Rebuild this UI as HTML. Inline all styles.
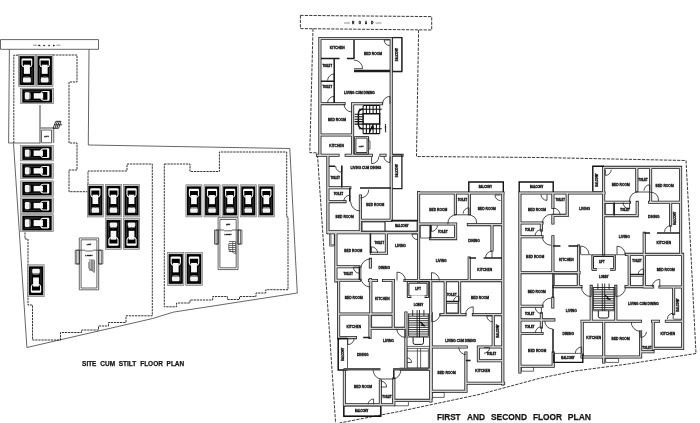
<!DOCTYPE html>
<html><head><meta charset="utf-8"><title>Floor Plan</title>
<style>html,body{margin:0;padding:0;background:#fff}body{width:700px;height:423px;overflow:hidden;font-family:"Liberation Sans",sans-serif}svg{display:block}</style>
</head><body>
<svg width="700" height="423" viewBox="0 0 700 423">
<rect width="700" height="423" fill="#fff"/>
<defs>
<symbol id="car" viewBox="0 0 16.7 33.6" preserveAspectRatio="none" overflow="visible">
<rect x="0.3" y="0.3" width="16.1" height="33" fill="#c6c6c6" stroke="#707070" stroke-width="0.6"/>
<rect x="1.4" y="2" width="13.9" height="29.6" fill="#000"/>
<path d="M4.4 5.5H12.3" stroke="#fff" stroke-width="2.2" stroke-linecap="round" fill="none"/>
<path d="M3.8 5.6V10.8Q3.9 12.8 6.2 13.2M12.9 5.6V10.8Q12.8 12.8 10.5 13.2" stroke="#f4f4f4" stroke-width="1.15" fill="none"/>
<rect x="5.5" y="10.8" width="5.7" height="9.4" fill="#f8f8f8"/>
<path d="M3.5 13.5V29.6M13.2 13.5V29.6" stroke="#777" stroke-width="0.5"/>
<path d="M4.9 24Q8.4 22.8 11.9 24" stroke="#ccc" stroke-width="0.7" fill="none"/>
<rect x="4.6" y="24.3" width="7.5" height="4.8" rx="1.2" fill="#f2f2f2"/>
</symbol>
</defs>

<path d="M0.5 39.6L98.5 39.6L98.5 49.3L0.5 49.3L0.5 39.6M9.4 49.3L8.6 143L40 143M13.5 143.5L26.9 347.5L152.3 318.6L173.5 312.1L297.3 293L289.8 148.5L88.3 145L89 49.3M41.5 130L51.5 130L51.5 142.8L41.5 142.8L41.5 130M79.3 238L98.7 238L98.7 289.8L79.3 289.8L79.3 238M81.1 239.8L96.9 239.8L96.9 288L81.1 288L81.1 239.8M75.3 250.2L79.3 250.2L79.3 264L75.3 264L75.3 250.2M76.8 250.2L79.3 250.2L79.3 264L76.8 264L76.8 250.2M98.7 250.2L102.8 250.2L102.8 264L98.7 264L98.7 250.2M98.7 250.2L101.3 250.2L101.3 264L98.7 264L98.7 250.2M79.3 250.2L85.3 250.2M92.7 250.2L98.7 250.2M85.3 251L92.7 251M218.1 217.7L238 217.7L238 269.6L218.1 269.6L218.1 217.7M219.9 219.5L236.2 219.5L236.2 267.8L219.9 267.8L219.9 219.5M214.5 230L218.1 230L218.1 244.1L214.5 244.1L214.5 230M216 230L218.1 230L218.1 244.1L216 244.1L216 230M238 230L241.9 230L241.9 244.1L238 244.1L238 230M238 230L240.4 230L240.4 244.1L238 244.1L238 230M218.1 230L224.1 230M232 230L238 230M224.1 230.8L232 230.8M392.6 37.4L401.9 37.4L401.9 71.6L392.6 71.6L392.6 37.4M368.6 136.5L368.6 141L370 141L370 149L368.6 149M362.2 222L385 222L385 231L362.2 231L362.2 222M385 221.2L417 221.2L417 231L385 231L385 221.2M329.6 233.5L334.4 233.5L334.4 246L329.6 246L329.6 233.5M330.9 233.5L334.4 233.5L334.4 244.8L330.9 244.8L330.9 233.5M360.9 268.5L360.9 277.5M371.6 315.6L392.4 315.6L392.4 327.6L371.6 327.6L371.6 315.6M347.5 338.4L347.5 369M406.6 346.4L430 346.4M407.2 337.2L429.4 337.2M407 348.4L428.4 348.4L428.4 368L407 368L407 348.4M417.4 348.4L417.4 368M420.6 348.4L420.6 368M407 351L428.4 351M394 400.4L408.4 400.4L408.4 405.8L394 405.8L394 400.4M343.8 406.2L380.8 406.2L380.8 416.2L343.8 416.2L343.8 406.2M420.4 225.6L429.8 225.6L429.8 238L420.4 238L420.4 225.6M446.4 303.4L458 303.4L458 312.8L446.4 312.8L446.4 303.4M431.8 392.4L444.2 392.4L444.2 397.4L431.8 397.4L431.8 392.4M554.4 274.2L577.2 274.2L577.2 285.6L554.4 285.6L554.4 274.2M521.4 366.6L533.6 366.6L533.6 371.2L521.4 371.2L521.4 366.6M553.8 353.4L582.8 353.4M592.8 191.6L603 191.6M605.6 203.4L613.4 203.4L613.4 214.6L605.6 214.6L605.6 203.4M630.4 276.4L643 276.4L643 285.6L630.4 285.6L630.4 276.4M673.6 319.2L682 319.2M605.6 358.4L618.6 358.4L618.6 362.4L605.6 362.4L605.6 358.4M580.6 254.7L591.8 254.7M615.4 254.7L626.4 254.7M592 310.8L615 310.8" fill="none" stroke="#333" stroke-width="0.75"/>
<path d="M18 55.2L13.8 55.2L13.8 143M53 55L77 55L77 82L69 82L69 143L77 143L77 170L69 170L69 191.7L88 191.7M88 184L88 171L127 171L127 164L152.3 164L152.3 315.8L126 315.8L126 322.5L108.5 322.5L108.5 326L98.5 326L98.5 330L81.5 330L81.5 332.5L60.5 332.5L60.5 340L32.5 340L32.5 305L28 305L28 239L25 239L25 232M164.3 164L190 164L190 171.5L219.4 171.5L219.4 152L286.7 152L286.7 217L288 217L288 289.7L265.8 289.7L265.8 293L256 293L256 296.5L239.5 296.5L239.5 299.5L227.4 299.5L227.4 296.5L212.7 296.5L212.7 300L190 300L190 303L176.6 303L176.6 306.8L164.3 306.8L164.3 164" fill="none" stroke="#111" stroke-width="0.85" stroke-dasharray="2.3 0.8"/>
<path d="M300.4 15.4L431.7 16.6L431.7 30L300.4 28.6L300.4 15.4M313 28.6L309.8 152.6L318 153M317.5 155L335.6 423M418.6 30L416.5 156.5L540 157.5L686 160.5L689.5 225L693 295L696 353.5M696 353.5L626 364.3L575 371L540 378.2L480 394.3L400 411.3L339.5 423" fill="none" stroke="#222" stroke-width="0.9" stroke-dasharray="3.2 1.2"/>
<path d="M319.9 38.5L319.9 155M319.9 38.5L391.2 38.5M391.2 38.5L391.2 155M321 103.6L344 103.6M352.6 104L352.6 155M352.6 103.8L381.5 103.8M321 135L352.6 135M317.5 155.3L338 155.3M346.2 155.3L371.4 155.3M381 155.3L385 155.3M391.4 155.3L402 155.3M327.9 156L327.9 232.5M391.2 156L391.2 220M329 187.8L349.8 187.8M329 201.6L345 201.6M360.4 196L360.4 232M360.4 220.2L391 220.2M329 231.8L360 231.8M328.5 232.8L418 232.8M335.9 234L335.9 281M418.6 192.5L418.6 281M370.4 259.4L370.4 267M370.4 279.5L370.4 288M386.4 233.5L386.4 253M371.4 253.2L386.4 253.2M337 266.8L359 266.8M337 280.3L359.4 280.3M369.5 280.5L376.5 280.5M383.5 280.5L393.4 280.5M405 280.5L418.5 280.5M338.6 281L338.6 338M370.8 281L370.8 313.5M393.2 281L393.2 328M338.6 314L393.2 314M370 315L370 337.5M339 337.6L355.4 337.6M371 328.4L405.4 328.4M405.9 313L405.9 369M430.7 281L430.7 401M344.4 370.5L344.4 405M344.4 404.8L393.6 404.8M380.4 381L380.4 404.5M393.8 379L393.8 404.5M393.6 400.4L431 400.4M418.6 193L503 193M502.8 193L502.8 384M455.4 194L455.4 213.5M469.4 194L469.4 213.5M420 224L455.6 224M468.4 224.6L502 224.6M430.6 238.6L455.4 238.6M455.6 224L455.6 238.6M492 225.5L492 250M469.2 258L469.2 280M419.5 280.6L502.5 280.6M445.2 282L445.2 314M459.6 282L459.6 314M441 314.6L465 314.6M473.4 314.6L502.5 314.6M493.2 315.2L493.2 346.5M431.2 313.5L431.2 398M431.2 347L466.2 347M478.4 347L502.5 347M465.9 353L465.9 391M431.5 391.2L466 391.2M478.4 347L478.4 360.6M478.4 360.8L502.5 360.8M466 383.2L503.6 383.2M401 369.3L430 369.3M519.9 193L604 193M519.9 193L519.9 372M552.9 194L552.9 207.5M552.9 215.4L552.9 223M553 215.4L567.2 215.4M567.2 194L567.2 215.4M521 223L542 223M541.4 223.5L541.4 230M521 236.8L542 236.8M552.9 236.8L552.9 272M578.5 246L578.5 286M519.9 272.6L579 272.6M552.8 298.3L552.8 307M521 306.2L542 306.2M541.4 313.7L541.4 327M521 319.9L553.8 319.9M521 333.5L542 333.5M553.2 353L553.2 366M519.9 366.2L553.2 366.2M582.2 321.2L582.2 357M603.7 321.2L603.7 362M603.6 167.4L680.6 167.4M603.6 167.4L603.6 253.5M680.6 167.4L680.6 254.4M636.8 168.5L636.8 190.4M650.6 168.5L650.6 202M605 202.2L629.4 202.2M649.6 202.2L680 202.2M605 215.6L637.2 215.6M637.2 202.4L637.2 215.6M670.6 203L670.6 225M644.2 233.2L644.2 253.5M626.4 254.4L681.6 254.4M629.2 255.4L629.2 286.4M644.4 255.4L644.4 286.4M644.4 287L652.6 287M660 287L682.4 287M673.6 288L673.6 313.4M582 321.2L640.4 321.2M652.6 321.2L658.4 321.2M666.4 321.2L682.6 321.2M653.2 322.4L653.2 349M653.2 348.4L682.6 348.4M682.6 254.4L682.6 348.4M640.6 332L640.6 357M640.6 351.8L653 351.8M582 357L640.6 357M591.2 286.4L591.2 321M615.8 286.4L615.8 321M554 286.6L581 286.6M626 286.6L652.6 286.6M603.6 253.5L603.6 254" fill="none" stroke="#222" stroke-width="3.1" stroke-linecap="square"/>
<path d="M319.9 38.5L319.9 155M319.9 38.5L391.2 38.5M391.2 38.5L391.2 155M321 103.6L344 103.6M352.6 104L352.6 155M352.6 103.8L381.5 103.8M321 135L352.6 135M317.5 155.3L338 155.3M346.2 155.3L371.4 155.3M381 155.3L385 155.3M391.4 155.3L402 155.3M327.9 156L327.9 232.5M391.2 156L391.2 220M329 187.8L349.8 187.8M329 201.6L345 201.6M360.4 196L360.4 232M360.4 220.2L391 220.2M329 231.8L360 231.8M328.5 232.8L418 232.8M335.9 234L335.9 281M418.6 192.5L418.6 281M370.4 259.4L370.4 267M370.4 279.5L370.4 288M386.4 233.5L386.4 253M371.4 253.2L386.4 253.2M337 266.8L359 266.8M337 280.3L359.4 280.3M369.5 280.5L376.5 280.5M383.5 280.5L393.4 280.5M405 280.5L418.5 280.5M338.6 281L338.6 338M370.8 281L370.8 313.5M393.2 281L393.2 328M338.6 314L393.2 314M370 315L370 337.5M339 337.6L355.4 337.6M371 328.4L405.4 328.4M405.9 313L405.9 369M430.7 281L430.7 401M344.4 370.5L344.4 405M344.4 404.8L393.6 404.8M380.4 381L380.4 404.5M393.8 379L393.8 404.5M393.6 400.4L431 400.4M418.6 193L503 193M502.8 193L502.8 384M455.4 194L455.4 213.5M469.4 194L469.4 213.5M420 224L455.6 224M468.4 224.6L502 224.6M430.6 238.6L455.4 238.6M455.6 224L455.6 238.6M492 225.5L492 250M469.2 258L469.2 280M419.5 280.6L502.5 280.6M445.2 282L445.2 314M459.6 282L459.6 314M441 314.6L465 314.6M473.4 314.6L502.5 314.6M493.2 315.2L493.2 346.5M431.2 313.5L431.2 398M431.2 347L466.2 347M478.4 347L502.5 347M465.9 353L465.9 391M431.5 391.2L466 391.2M478.4 347L478.4 360.6M478.4 360.8L502.5 360.8M466 383.2L503.6 383.2M401 369.3L430 369.3M519.9 193L604 193M519.9 193L519.9 372M552.9 194L552.9 207.5M552.9 215.4L552.9 223M553 215.4L567.2 215.4M567.2 194L567.2 215.4M521 223L542 223M541.4 223.5L541.4 230M521 236.8L542 236.8M552.9 236.8L552.9 272M578.5 246L578.5 286M519.9 272.6L579 272.6M552.8 298.3L552.8 307M521 306.2L542 306.2M541.4 313.7L541.4 327M521 319.9L553.8 319.9M521 333.5L542 333.5M553.2 353L553.2 366M519.9 366.2L553.2 366.2M582.2 321.2L582.2 357M603.7 321.2L603.7 362M603.6 167.4L680.6 167.4M603.6 167.4L603.6 253.5M680.6 167.4L680.6 254.4M636.8 168.5L636.8 190.4M650.6 168.5L650.6 202M605 202.2L629.4 202.2M649.6 202.2L680 202.2M605 215.6L637.2 215.6M637.2 202.4L637.2 215.6M670.6 203L670.6 225M644.2 233.2L644.2 253.5M626.4 254.4L681.6 254.4M629.2 255.4L629.2 286.4M644.4 255.4L644.4 286.4M644.4 287L652.6 287M660 287L682.4 287M673.6 288L673.6 313.4M582 321.2L640.4 321.2M652.6 321.2L658.4 321.2M666.4 321.2L682.6 321.2M653.2 322.4L653.2 349M653.2 348.4L682.6 348.4M682.6 254.4L682.6 348.4M640.6 332L640.6 357M640.6 351.8L653 351.8M582 357L640.6 357M591.2 286.4L591.2 321M615.8 286.4L615.8 321M554 286.6L581 286.6M626 286.6L652.6 286.6M603.6 253.5L603.6 254" fill="none" stroke="#d4d4d4" stroke-width="1.5" stroke-linecap="square"/>
<path d="M354 40L354 59M321 58.4L339.5 58.4M346.9 58.4L354 58.4M354 70.6L390 70.6M354 71.6L390 71.6M334.2 58.4L334.2 103M321 81.2L334.2 81.2M341.8 165.5L341.8 187.5M329 166.3L335 166.3M349.8 187.8L349.8 201.5M360 188L391 188M391 220.6L418 220.6M370.4 233.5L370.4 253M359.4 266.6L359.4 280M363.2 337.6L370 337.6M393.8 370L393.8 379M430.6 225L430.6 238.5M469.2 257.9L476 257.9M483.6 257.9L502 257.9M446 301.6L459 301.6M465.9 360.6L470.6 360.6M553 246L560.4 246M568.4 246L578.4 246M553 273.5L553 298M553 329L553 353M614.2 202.5L614.2 215.4M644.2 233.1L650 233.1M657 233.1L680 233.1M630 274.6L644 274.6" fill="none" stroke="#1c1c1c" stroke-width="1.5"/>
<path d="M354 60.1A8.6 8.6 0 0 1 362.6 68.7L354 68.7M327.6 80.6A6.6 6.6 0 0 1 334.2 74L334.2 80.6M327.6 103A6.6 6.6 0 0 1 334.2 96.4L334.2 103M389.8 45.6A5.6 5.6 0 0 1 384.2 40L389.8 40M344 104A8 8 0 0 0 352 112M382.6 103.8A7.4 7.4 0 0 1 390 96.4L390 103.8M335.6 166A6.2 6.2 0 0 0 341.8 172.2L341.8 166M343.8 201.2A6 6 0 0 1 349.8 195.2L349.8 201.2M378.8 156.5A7.2 7.2 0 0 1 371.6 163.7L371.6 156.5M384 156.5A6 6 0 0 0 390 162.5L390 156.5M368.8 189.6A8.4 8.4 0 0 1 360.4 198M350.6 201.4A9.6 9.6 0 0 0 360.2 211M377.6 253A6.2 6.2 0 0 0 371.4 246.8L371.4 253M370.4 259A9.5 9.5 0 0 0 360.9 268.5M359.4 273.2A6 6 0 0 1 353.4 267.2L359.4 267.2M360.9 277.5A9.5 9.5 0 0 0 370.4 287M405.4 280.5A8.4 8.4 0 0 0 397 272.1L397 280.5M417.6 239.6A5.6 5.6 0 0 1 412 234L417.6 234M354.2 338.2A6.4 6.4 0 0 1 347.8 344.6L347.8 338.2M396.8 328.8A8.6 8.6 0 0 0 405.4 337.4L405.4 328.8M407 357.9A4.6 4.6 0 0 1 411.6 362.5L407 362.5M373 370Q374 378 381 379H393Q400 378 401 370M380.8 381.2A5.8 5.8 0 0 1 386.6 387L380.8 387M368.2 404.4A5.4 5.4 0 0 1 373.6 399L373.6 404.4M500.6 200.6A5.6 5.6 0 0 1 495 195L500.6 195M463.2 213.6A5.8 5.8 0 0 1 469 207.8L469 213.6M447.8 224.4Q447.8 214.8 457.4 214.8H467Q476.6 214.8 476.6 223M437.4 225.4A6 6 0 0 1 431.4 231.4L431.4 225.4M485.6 257.6A6.4 6.4 0 0 1 492 251.2L492 257.6M439.3 280.4A7.8 7.8 0 0 0 431.5 272.6L431.5 280.4M453.6 301.4A5.4 5.4 0 0 1 459 296L459 301.4M465.6 314.4A7.6 7.6 0 0 1 473.2 306.8L473.2 314.4M492.8 321.8A6 6 0 0 1 486.8 315.8L492.8 315.8M440.2 313.4A8.4 8.4 0 0 1 431.8 321.8L431.8 313.4M458.8 347.4A7.2 7.2 0 0 0 466 354.6M484 353.2A5.6 5.6 0 0 0 489.6 347.6L484 347.6M560 214.6A6.4 6.4 0 0 0 553.6 208.2L553.6 214.6M542.4 223A8.6 8.6 0 0 1 551 214.4M535 236A6.4 6.4 0 0 1 541.4 229.6L541.4 236M542.4 236.6A8.6 8.6 0 0 0 551 245.2M542.4 306.6A8.4 8.4 0 0 1 550.8 298.2M535.4 307.6A6 6 0 0 0 541.4 313.6L541.4 307.6M535.4 332.8A6 6 0 0 1 541.4 326.8L541.4 332.8M544.8 321A8 8 0 0 0 552.8 329M541 194.4A6 6 0 0 0 547 200.4L547 194.4M589 254.4A8.4 8.4 0 0 0 580.6 246L580.6 254.4M575.4 353.2A6.2 6.2 0 0 1 581.6 347L581.6 353.2M581.4 286.8A9.8 9.8 0 0 0 591.2 296.6L591.2 286.8M611.2 169.6A5.8 5.8 0 0 1 605.4 175.4L605.4 169.6M644 190.6A5.8 5.8 0 0 1 649.8 184.8L649.8 190.6M629.4 202Q629.4 192 639 192H649Q658.6 192 658.6 201M623 202.4A6.6 6.6 0 0 0 629.6 209L629.6 202.4M664.6 231.8A6 6 0 0 1 670.6 225.8L670.6 231.8M625.2 254.4A8.2 8.2 0 0 0 617 246.2L617 254.4M638.2 274.4A5.4 5.4 0 0 1 643.6 269L643.6 274.4M652.2 287A7.6 7.6 0 0 1 659.8 279.4L659.8 287M667.4 319A5.8 5.8 0 0 1 673.2 313.2L673.2 319M640.6 331.4A9.4 9.4 0 0 1 631.2 322M646.4 331.8A5.6 5.6 0 0 1 640.8 337.4L640.8 331.8M625.6 286.8A9.8 9.8 0 0 1 615.8 296.6L615.8 286.8" fill="none" stroke="#222" stroke-width="0.8"/>
<path d="M33 45.2H37.2M56.4 45.2H60.4" stroke="#444" stroke-width="0.6"/>
<use href="#car" width="16.7" height="33.6" transform="matrix(1.0539 0.0000 0.0000 0.9732 18.1000 54.2000)"/>
<use href="#car" width="16.7" height="33.6" transform="matrix(1.0299 0.0000 0.0000 0.9732 36.1000 54.2000)"/>
<use href="#car" width="16.7" height="33.6" transform="matrix(0.0000 0.9581 -1.0030 0.0000 54.0000 87.9000)"/>
<use href="#car" width="16.7" height="33.6" transform="matrix(0.0000 0.9581 -0.9881 0.0000 53.6000 145.2000)"/>
<use href="#car" width="16.7" height="33.6" transform="matrix(0.0000 0.9581 -0.9881 0.0000 53.6000 162.9000)"/>
<use href="#car" width="16.7" height="33.6" transform="matrix(0.0000 0.9581 -0.9881 0.0000 53.6000 180.6000)"/>
<use href="#car" width="16.7" height="33.6" transform="matrix(0.0000 0.9581 -0.9881 0.0000 53.6000 197.6000)"/>
<use href="#car" width="16.7" height="33.6" transform="matrix(0.0000 1.0419 -0.9881 0.0000 53.6000 214.4000)"/>
<use href="#car" width="16.7" height="33.6" transform="matrix(1.0000 0.0000 0.0000 0.9911 87.0000 184.0000)"/>
<use href="#car" width="16.7" height="33.6" transform="matrix(1.0000 0.0000 0.0000 0.9911 105.1000 184.0000)"/>
<use href="#car" width="16.7" height="33.6" transform="matrix(1.0000 0.0000 0.0000 0.9911 123.2000 184.0000)"/>
<use href="#car" width="16.7" height="33.6" transform="matrix(-1.0000 0.0000 0.0000 -0.9405 121.8000 249.8000)"/>
<use href="#car" width="16.7" height="33.6" transform="matrix(-1.0000 0.0000 0.0000 -0.9405 139.9000 249.8000)"/>
<use href="#car" width="16.7" height="33.6" transform="matrix(1.0000 0.0000 0.0000 0.9732 185.6000 184.5000)"/>
<use href="#car" width="16.7" height="33.6" transform="matrix(1.0000 0.0000 0.0000 0.9732 203.7000 184.5000)"/>
<use href="#car" width="16.7" height="33.6" transform="matrix(1.0000 0.0000 0.0000 0.9732 221.8000 184.5000)"/>
<use href="#car" width="16.7" height="33.6" transform="matrix(1.0000 0.0000 0.0000 0.9732 239.9000 184.5000)"/>
<use href="#car" width="16.7" height="33.6" transform="matrix(1.0000 0.0000 0.0000 0.9732 258.0000 184.5000)"/>
<use href="#car" width="16.7" height="33.6" transform="matrix(1.0120 0.0000 0.0000 1.0030 167.3000 252.1000)"/>
<use href="#car" width="16.7" height="33.6" transform="matrix(1.0299 0.0000 0.0000 1.0030 185.4000 252.1000)"/>
<use href="#car" width="16.7" height="33.6" transform="matrix(-1.0180 0.0000 0.0000 -0.9673 44.5000 297.0000)"/>
<path d="M40 105V143.5M40 128H53.5V143" fill="none" stroke="#888" stroke-width="1.6"/>
<path d="M53 128.3L55.8 121.3H61L58.6 128.3ZM54.4 124.8H62.2M57.5 121.3L55 128.3M59.3 121.3L56.8 128.3" fill="none" stroke="#222" stroke-width="0.9"/>
<path d="M88.9 260H94.3M88.9 262H94.3M88.9 264H94.3M88.9 266H94.3M88.9 268H94.3M88.9 270H94.3M88.9 262V268.4L94.3 272.4V260M92 260V270.5" fill="none" stroke="#444" stroke-width="0.75"/>
<path d="M228.8 241.5H235.7M228.8 243.5H235.7M228.8 245.5H235.7M228.8 247.5H235.7M228.8 249.5H235.7M228.8 251.5H235.7M228.8 243.5V249.9L235.7 253.9V241.5M232.7 241.5V252" fill="none" stroke="#444" stroke-width="0.75"/>
<path d="M344 23H350M375.6 23H381.6" stroke="#444" stroke-width="0.6"/>
<path d="M392.6 37.6H401.9V71.5H392.6" fill="none" stroke="#222" stroke-width="1.3"/>
<path d="M354.4 136.6H368.6V154H354.4ZM355.9 138.1H367.1V152.5H355.9Z" fill="none" stroke="#222" stroke-width="0.9"/>
<path d="M363.1 105.5L363.1 113.7M363.1 124.1L363.1 133.6M366.4 105.5L366.4 113.7M366.4 124.1L366.4 133.6M369.7 105.5L369.7 113.7M369.7 124.1L369.7 133.6M373.1 105.5L373.1 113.7M373.1 124.1L373.1 133.6M376.4 105.5L376.4 113.7M376.4 124.1L376.4 133.6M379.7 105.5L379.7 113.7M379.7 124.1L379.7 133.6M363.1 105.5L379.7 105.5M358.9 109.2L381.8 109.2M363.1 133.6L379.7 133.6M358.9 128.8L381.8 128.8M354.6 114.3L363.1 114.3M354.6 116.8L363.1 116.8M354.6 119.2L363.1 119.2M354.6 121.6L363.1 121.6M354.6 124.1L363.1 124.1" fill="none" stroke="#111" stroke-width="1.05"/>
<path d="M363.1 113.7H379.7V124.1H363.1ZM363.1 109.2Q358.4 109.2 358.4 113.7V124.1Q358.4 128.8 363.1 128.8" fill="none" stroke="#111" stroke-width="1.5"/>
<path d="M372.4 125.2l-3 7.4l1 -4l3.4 0.4z" fill="#111" stroke="#111" stroke-width="1"/>
<path d="M392.4 154.8H401.9V188.6H392.4" fill="none" stroke="#222" stroke-width="1.3"/>
<path d="M347.5 338.4H338.2V370H347.5" fill="none" stroke="#111" stroke-width="1.5"/>
<path d="M343.5 369.3H380.5M393 369.3H428.5" fill="none" stroke="#555" stroke-width="2.6"/>
<path d="M407.3 281.6H428.7V297.5H407.3ZM408.9 283.2H427.1V295.9H408.9Z" fill="none" stroke="#222" stroke-width="1"/>
<rect x="411.5" y="295.4" width="13" height="3" fill="#fff"/>
<path d="M408.6 314H428.4M408.6 316.2H428.4M408.6 318.4H428.4M408.6 320.7H428.4M408.6 322.9H428.4M408.6 325.1H428.4M408.6 327.4H428.4M408.6 329.6H428.4M408.6 331.8H428.4M408.6 334H428.4M408.6 336.2H428.4M417.1 310V337.4M419.5 310V337.4M412.7 310V316M423.9 310V316M408.6 313.5V336.2M428.4 313.5V336.2" stroke="#151515" stroke-width="0.85" fill="none"/>
<path d="M413.1 337.2V342.6Q413.1 344.4 414.9 344.4H421.7Q423.5 344.4 423.5 342.6V337.2" stroke="#151515" stroke-width="1" fill="none"/>
<path d="M419.8 322l5.4 4l-3.6 -0.6l1 -2.2z" fill="#111" stroke="#111" stroke-width="0.9"/>
<path d="M343.8 406.2V416.2H380.8V406.2" fill="none" stroke="#111" stroke-width="1.4"/>
<path d="M468.8 192V182H503.3V192" fill="none" stroke="#111" stroke-width="1.4"/>
<path d="M519.2 192V182H553.2V192" fill="none" stroke="#111" stroke-width="1.4"/>
<path d="M553.8 353.4V362.4H582.8V353.4" fill="none" stroke="#111" stroke-width="1.4"/>
<path d="M604 166.2H592.8V191.6" fill="none" stroke="#111" stroke-width="1.4"/>
<path d="M591.9 254.9H615.3V270.3H591.9ZM593.5 256.5H613.7V268.7H593.5Z" fill="none" stroke="#222" stroke-width="1"/>
<rect x="597" y="268.2" width="13" height="3" fill="#fff"/>
<path d="M593.4 287.5H614M593.4 289.7H614M593.4 292H614M593.4 294.2H614M593.4 296.4H614M593.4 298.7H614M593.4 300.9H614M593.4 303.1H614M593.4 305.4H614M593.4 307.6H614M593.4 309.8H614M602.3 283.5V311M604.7 283.5V311M597.9 283.5V289.5M609.1 283.5V289.5M593.4 287V309.8M614 287V309.8" stroke="#151515" stroke-width="0.85" fill="none"/>
<path d="M598.3 310.8V316.2Q598.3 318 600.1 318H606.9Q608.7 318 608.7 316.2V310.8" stroke="#151515" stroke-width="1" fill="none"/>
<path d="M605 295.5l5.4 4l-3.6 -0.6l1 -2.2z" fill="#111" stroke="#111" stroke-width="0.9"/>
<g font-family="'Liberation Sans', sans-serif" font-weight="bold" fill="#111" stroke="#111" stroke-width="0.27" text-anchor="middle" opacity="0.99">
<text x="39.4" y="46" font-size="2.5" stroke-width="0.3">R</text>
<text x="44.3" y="46" font-size="2.5" stroke-width="0.3">O</text>
<text x="49.2" y="46" font-size="2.5" stroke-width="0.3">A</text>
<text x="53.9" y="46" font-size="2.5" stroke-width="0.3">D</text>
<text x="46.5" y="137.3" font-size="2.1" stroke-width="0.3">LIFT</text>
<text x="89" y="245.4" font-size="2.1" stroke-width="0.3">LIFT</text>
<text x="89" y="255.6" font-size="2.1" stroke-width="0.3">LOBBY</text>
<text x="228.1" y="225.1" font-size="2.1" stroke-width="0.3">LIFT</text>
<text x="228.1" y="235.4" font-size="2.1" stroke-width="0.3">LOBBY</text>
<text x="353.3" y="24" font-size="2.8" stroke-width="0.3">R</text>
<text x="359.8" y="24" font-size="2.8" stroke-width="0.3">O</text>
<text x="366" y="24" font-size="2.8" stroke-width="0.3">A</text>
<text x="372.2" y="24" font-size="2.8" stroke-width="0.3">D</text>
<text x="397.3" y="55.5" font-size="2.7" stroke-width="0.3" transform="rotate(-90 397.3 54.5)">BALCONY</text>
<text x="337.2" y="49" font-size="3.3">KITCHEN</text>
<text x="373" y="55.4" font-size="3.3">BED ROOM</text>
<text x="327.3" y="66.6" font-size="2.7" stroke-width="0.3">TOILET</text>
<text x="327.3" y="88.4" font-size="2.7" stroke-width="0.3">TOILET</text>
<text x="359.3" y="94.2" font-size="3.2">LIVING CUM DINING</text>
<text x="337" y="120.8" font-size="3.3">BED ROOM</text>
<text x="336.6" y="146.5" font-size="3.3">KITCHEN</text>
<text x="361.3" y="146.5" font-size="2.4" stroke-width="0.3">LIFT</text>
<text x="385.6" y="128.9" font-size="2.4" stroke-width="0.3" transform="rotate(-90 385.6 128)">LOBBY</text>
<text x="397.2" y="171.5" font-size="2.7" stroke-width="0.3" transform="rotate(-90 397.2 170.5)">BALCONY</text>
<text x="365.9" y="168.9" font-size="3.2">LIVING CUM DINING</text>
<text x="335.2" y="179" font-size="2.7" stroke-width="0.3">TOILET</text>
<text x="338.5" y="195.2" font-size="2.7" stroke-width="0.3">TOILET</text>
<text x="375.3" y="206.4" font-size="3.3">BED ROOM</text>
<text x="344.6" y="218.1" font-size="3.3">BED ROOM</text>
<text x="401.8" y="226.6" font-size="2.7" stroke-width="0.3">BALCONY</text>
<text x="353.2" y="251.9" font-size="3.3">BED ROOM</text>
<text x="379.3" y="244.4" font-size="2.7" stroke-width="0.3">TOILET</text>
<text x="400.4" y="247.3" font-size="3.3">LIVING</text>
<text x="384.3" y="268.8" font-size="3.3">DINING</text>
<text x="348.2" y="274.6" font-size="2.7" stroke-width="0.3">TOILET</text>
<text x="342.7" y="355.3" font-size="2.7" stroke-width="0.3" transform="rotate(-90 342.7 354.3)">BALCONY</text>
<text x="353.8" y="298.9" font-size="3.3">BED ROOM</text>
<text x="382.3" y="300.2" font-size="3.3">KITCHEN</text>
<text x="353.8" y="328.4" font-size="3.3">KITCHEN</text>
<text x="388.4" y="342" font-size="3.3">LIVING</text>
<text x="362.7" y="355.9" font-size="3.3">DINING</text>
<text x="418.5" y="305.5" font-size="2.7" stroke-width="0.3">LOBBY</text>
<text x="418" y="290.4" font-size="2.7" stroke-width="0.3">LIFT</text>
<text x="363" y="387.6" font-size="3.3">BED ROOM</text>
<text x="387" y="397.6" font-size="2.7" stroke-width="0.3">TOILET</text>
<text x="361.6" y="412.2" font-size="2.7" stroke-width="0.3">BALCONY</text>
<text x="485.3" y="187.5" font-size="2.7" stroke-width="0.3">BALCONY</text>
<text x="438.2" y="210.9" font-size="3.3">BED ROOM</text>
<text x="462.5" y="200.8" font-size="2.7" stroke-width="0.3">TOILET</text>
<text x="486.7" y="209.9" font-size="3.3">BED ROOM</text>
<text x="442.8" y="233" font-size="2.7" stroke-width="0.3">TOILET</text>
<text x="474" y="242" font-size="3.3">DINING</text>
<text x="441.2" y="262" font-size="3.3">LIVING</text>
<text x="484.7" y="270.5" font-size="3.3">KITCHEN</text>
<text x="451.8" y="296" font-size="2.7" stroke-width="0.3">TOILET</text>
<text x="480" y="298.7" font-size="3.3">BED ROOM</text>
<text x="497.6" y="332" font-size="2.7" stroke-width="0.3" transform="rotate(-90 497.6 331)">BALCONY</text>
<text x="460.6" y="341.5" font-size="3.2">LIVING CUM DINING</text>
<text x="446.6" y="374" font-size="3.3">BED ROOM</text>
<text x="482.7" y="372.4" font-size="3.3">KITCHEN</text>
<text x="491.4" y="355" font-size="2.7" stroke-width="0.3">TOILET</text>
<text x="536.7" y="187.5" font-size="2.7" stroke-width="0.3">BALCONY</text>
<text x="567.9" y="358.6" font-size="2.7" stroke-width="0.3">BALCONY</text>
<text x="537" y="210.9" font-size="3.3">BED ROOM</text>
<text x="560.2" y="200.8" font-size="2.7" stroke-width="0.3">TOILET</text>
<text x="584.7" y="209.9" font-size="3.3">LIVING</text>
<text x="529.7" y="230.6" font-size="2.7" stroke-width="0.3">TOILET</text>
<text x="535.1" y="257.8" font-size="3.3">BED ROOM</text>
<text x="566.3" y="261.4" font-size="3.3">KITCHEN</text>
<text x="536.7" y="292.5" font-size="3.3">BED ROOM</text>
<text x="529.7" y="314.5" font-size="2.7" stroke-width="0.3">TOILET</text>
<text x="529.7" y="327.8" font-size="2.7" stroke-width="0.3">TOILET</text>
<text x="537.1" y="351.5" font-size="3.3">BED ROOM</text>
<text x="571.3" y="312.3" font-size="3.3">LIVING</text>
<text x="568.3" y="335.4" font-size="3.3">DINING</text>
<text x="597.4" y="181" font-size="2.7" stroke-width="0.3" transform="rotate(-90 597.4 180)">BALCONY</text>
<text x="620.8" y="185.8" font-size="3.3">BED ROOM</text>
<text x="642.9" y="180.6" font-size="2.7" stroke-width="0.3">TOILET</text>
<text x="664.6" y="186.8" font-size="3.3">BED ROOM</text>
<text x="624.9" y="211.3" font-size="2.7" stroke-width="0.3">TOILET</text>
<text x="653.8" y="218" font-size="3.3">DINING</text>
<text x="675.2" y="219.3" font-size="2.7" stroke-width="0.3" transform="rotate(-90 675.2 218.3)">BALCONY</text>
<text x="624.3" y="238.3" font-size="3.3">LIVING</text>
<text x="663.8" y="244.3" font-size="3.3">KITCHEN</text>
<text x="637" y="261.6" font-size="2.7" stroke-width="0.3">TOILET</text>
<text x="665.8" y="270.8" font-size="3.3">BED ROOM</text>
<text x="643.3" y="304.7" font-size="3.2">LIVING CUM DINING</text>
<text x="678.2" y="306" font-size="2.7" stroke-width="0.3" transform="rotate(-90 678.2 305)">BALCONY</text>
<text x="667.8" y="334.8" font-size="3.3">KITCHEN</text>
<text x="646.9" y="348.5" font-size="2.7" stroke-width="0.3">TOILET</text>
<text x="620.6" y="340.4" font-size="3.3">BED ROOM</text>
<text x="593.7" y="339.4" font-size="3.3">KITCHEN</text>
<text x="603.8" y="278" font-size="2.7" stroke-width="0.3">LOBBY</text>
<text x="601.8" y="262.6" font-size="2.7" stroke-width="0.3">LIFT</text>
</g>
<g font-family="'Liberation Sans', sans-serif" font-weight="bold" fill="#111" stroke="#111" stroke-width="0.25" opacity="0.99">
<text x="82.1" y="365.8" font-size="7.2" textLength="14.3" lengthAdjust="spacingAndGlyphs">SITE</text>
<text x="100.3" y="365.8" font-size="7.2" textLength="14.8" lengthAdjust="spacingAndGlyphs">CUM</text>
<text x="118.8" y="365.8" font-size="7.2" textLength="17.5" lengthAdjust="spacingAndGlyphs">STILT</text>
<text x="140.2" y="365.8" font-size="7.2" textLength="22.7" lengthAdjust="spacingAndGlyphs">FLOOR</text>
<text x="166.6" y="365.8" font-size="7.2" textLength="17.6" lengthAdjust="spacingAndGlyphs">PLAN</text>
<text x="437.0" y="420" font-size="9.8" textLength="23.6" lengthAdjust="spacingAndGlyphs">FIRST</text>
<text x="467.0" y="420" font-size="9.8" textLength="18.0" lengthAdjust="spacingAndGlyphs">AND</text>
<text x="491.0" y="420" font-size="9.8" textLength="36.0" lengthAdjust="spacingAndGlyphs">SECOND</text>
<text x="533.0" y="420" font-size="9.8" textLength="29.0" lengthAdjust="spacingAndGlyphs">FLOOR</text>
<text x="567.7" y="420" font-size="9.8" textLength="23.3" lengthAdjust="spacingAndGlyphs">PLAN</text>
</g>
</svg>
</body></html>
